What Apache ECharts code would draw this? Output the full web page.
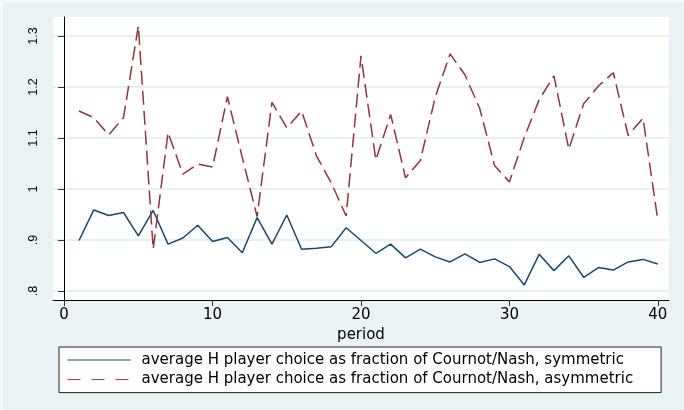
<!DOCTYPE html>
<html>
<head>
<meta charset="utf-8">
<script src="https://cdn.jsdelivr.net/npm/echarts@6/dist/echarts.min.js"></script>
<style>
  html, body { margin: 0; padding: 0; background: #eaf2f3; }
  #main { width: 684px; height: 410px; }
</style>
</head>
<body>
<div id="main"></div>
<script>
// periods 1..40
var periods = [];
for (var p = 1; p <= 40; p++) periods.push(p);

var symmetric = [0.899, 0.959, 0.948, 0.954, 0.908, 0.958, 0.892, 0.904, 0.929, 0.897,
  0.905, 0.875, 0.944, 0.892, 0.949, 0.882, 0.884, 0.887, 0.924, 0.899,
  0.874, 0.892, 0.865, 0.882, 0.867, 0.857, 0.873, 0.856, 0.863, 0.848,
  0.812, 0.872, 0.840, 0.869, 0.827, 0.846, 0.841, 0.857, 0.862, 0.853];

var asymmetric = [1.153, 1.140, 1.106, 1.140, 1.320, 0.882, 1.111, 1.029, 1.049, 1.043,
  1.181, 1.062, 0.946, 1.170, 1.120, 1.153, 1.065, 1.012, 0.947, 1.261,
  1.057, 1.146, 1.022, 1.056, 1.180, 1.265, 1.224, 1.158, 1.046, 1.014,
  1.101, 1.175, 1.222, 1.078, 1.167, 1.202, 1.228, 1.105, 1.139, 0.938];

var xTicks = [0, 10, 20, 30, 40];
var yTicks = [0.8, 0.9, 1.0, 1.1, 1.2, 1.3];

var seriesNames = [
  'average H player choice as fraction of Cournot/Nash, symmetric',
  'average H player choice as fraction of Cournot/Nash, asymmetric'
];

function pairs(vals) {
  return periods.map(function (x, i) { return [x, vals[i]]; });
}

var chart = echarts.init(document.getElementById('main'), null, { renderer: 'canvas' });

var option = {
  animation: false,
  backgroundColor: '#eaf2f3',
  textStyle: { fontFamily: 'DejaVu Sans' },
  grid: {
    left: 53, right: 15, top: 17, bottom: 110,
    show: true, backgroundColor: '#ffffff', borderWidth: 0
  },
  graphic: [
    // thin light frame at the top/left edge
    { type: 'rect', shape: { x: 0, y: 0, width: 684, height: 2 }, style: { fill: '#f6f9fa' }, silent: true },
    { type: 'rect', shape: { x: 0, y: 0, width: 3, height: 410 }, style: { fill: '#f6f9fa' }, silent: true }
  ],
  legend: {
    orient: 'vertical',
    left: 59, top: 347,
    padding: [5, 28, 5, 8],
    backgroundColor: '#ffffff',
    borderColor: '#222',
    borderWidth: 1,
    borderRadius: 0,
    itemWidth: 63, itemHeight: 16, itemGap: 3.6,
    textStyle: { fontFamily: 'DejaVu Sans', fontSize: 15, color: '#000', lineHeight: 16, padding: [0, 0, 0, 6] },
    // only the line sample, no marker in the middle
    itemStyle: { opacity: 0, borderWidth: 0 },
    data: [
      { name: seriesNames[0], itemStyle: { opacity: 0 }, lineStyle: { color: '#1a476f', width: 1 } },
      { name: seriesNames[1], itemStyle: { opacity: 0 }, lineStyle: { color: '#90353b', width: 1, type: [13, 11] } }
    ]
  },
  xAxis: {
    type: 'value',
    min: -0.75, max: 40.75,
    name: 'period',
    nameLocation: 'middle',
    nameGap: 16,
    nameTextStyle: { fontFamily: 'DejaVu Sans', fontSize: 15, color: '#000' },
    axisLine: { onZero: false, lineStyle: { color: '#000', width: 1 } },
    axisTick: { show: true, length: 6, customValues: xTicks, lineStyle: { color: '#333' } },
    axisLabel: { customValues: xTicks, margin: 8, fontFamily: 'DejaVu Sans', fontSize: 15, color: '#000' },
    splitLine: { show: false }
  },
  yAxis: {
    type: 'value',
    min: 0.7824, max: 1.3373,
    axisLine: { show: true, lineStyle: { color: '#000', width: 1 } },
    axisTick: { show: true, length: 6, customValues: yTicks, lineStyle: { color: '#333' } },
    axisLabel: {
      customValues: yTicks,
      rotate: 90,
      margin: 13,
      fontFamily: 'Liberation Sans', fontSize: 12.5, color: '#000',
      formatter: function (v) {
        return String(+(+v).toFixed(1)).replace(/^0\./, '.');
      }
    },
    splitLine: { show: true, lineStyle: { color: '#e8f0f2', width: 2 } }
  },
  series: [
    {
      name: seriesNames[0],
      type: 'line',
      data: pairs(symmetric),
      symbol: 'none',
      lineStyle: { color: '#1a476f', width: 1.5 },
      itemStyle: { color: '#1a476f' }
    },
    {
      name: seriesNames[1],
      type: 'line',
      data: pairs(asymmetric),
      symbol: 'none',
      clip: false,
      lineStyle: { color: '#90353b', width: 1.5, type: [14, 6] },
      itemStyle: { color: '#90353b' }
    }
  ]
};

chart.setOption(option);
</script>
</body>
</html>
